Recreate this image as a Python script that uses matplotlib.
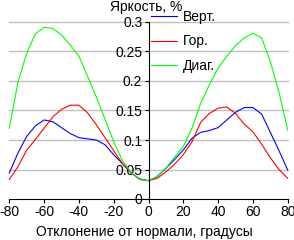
import matplotlib
matplotlib.use("Agg")
import matplotlib.pyplot as plt

plt.rcParams['font.family'] = ['Liberation Sans', 'DejaVu Sans']
plt.rcParams['font.size'] = 10

# deviation angle, degrees
angles = [-80, -75, -70, -65, -60, -55, -50, -45, -40, -35, -30, -25, -20, -15, -10, -5, 0,
          5, 10, 15, 20, 25, 30, 35, 40, 45, 50, 55, 60, 65, 70, 75, 80]

vert = [0.044, 0.078, 0.106, 0.124, 0.134, 0.131, 0.121, 0.111, 0.104, 0.102, 0.100, 0.092,
        0.075, 0.060, 0.044, 0.034, 0.031, 0.038, 0.052, 0.067, 0.083, 0.103, 0.113, 0.116,
        0.121, 0.134, 0.147, 0.155, 0.155, 0.144, 0.113, 0.082, 0.049]
hor = [0.033, 0.055, 0.083, 0.101, 0.120, 0.139, 0.152, 0.159, 0.159, 0.146, 0.126, 0.104,
       0.082, 0.060, 0.045, 0.033, 0.031, 0.035, 0.046, 0.059, 0.075, 0.097, 0.130, 0.145,
       0.154, 0.156, 0.145, 0.127, 0.114, 0.093, 0.070, 0.050, 0.035]
diag = [0.120, 0.198, 0.247, 0.280, 0.291, 0.289, 0.278, 0.261, 0.242, 0.208, 0.173, 0.135,
        0.097, 0.065, 0.045, 0.033, 0.031, 0.038, 0.052, 0.071, 0.089, 0.120, 0.162, 0.194,
        0.222, 0.242, 0.260, 0.273, 0.281, 0.273, 0.233, 0.181, 0.117]

labels = ['Верт.', 'Гор.', 'Диаг.']
colors = ['#0000ff', '#ff0000', '#00ff00']

xticks = [-80, -60, -40, -20, 0, 20, 40, 60, 80]
yticks = [0, 0.05, 0.1, 0.15, 0.2, 0.25, 0.3]

fig = plt.figure(figsize=(2.94, 2.40), dpi=100)
ax = fig.add_axes([9.3 / 294, 41 / 240, 278.4 / 294, 177 / 240])

for y in yticks[1:]:
    ax.axhline(y, color='#c0c0c0', lw=1.0, zorder=0, clip_on=False)

for series, lab, col in zip([vert, hor, diag], labels, colors):
    ax.plot(angles, series, color=col, lw=0.8, label=lab, clip_on=False)

ax.set_xlim(-80, 80)
ax.set_ylim(0, 0.3)

ax.spines['top'].set_visible(False)
ax.spines['right'].set_visible(False)
ax.spines['left'].set_position(('data', 0))
ax.spines['left'].set_linewidth(0.8)
ax.spines['bottom'].set_linewidth(0.8)

ax.set_xticks(xticks)
ax.set_xticklabels([str(t) for t in xticks])
ax.set_yticks(yticks)
ax.set_yticklabels(['0', '0.05', '0.1', '0.15', '0.2', '0.25', '0.3'])
ax.tick_params(axis='both', direction='out', length=3, width=0.8, pad=1.5, labelsize=10)

ax.legend(loc='upper left', bbox_to_anchor=(151 / 294, 1 - 10 / 240),
          bbox_transform=fig.transFigure, frameon=False, borderpad=0, borderaxespad=0,
          handlelength=1.9, handletextpad=0.4, labelspacing=0.75, fontsize=10)

fig.text(146.5 / 294, 1 - 7 / 240, 'Яркость, %', ha='center', va='center', fontsize=10)
fig.text(144 / 294, 1 - 232 / 240, 'Отклонение от нормали, градусы', ha='center',
         va='center', fontsize=10)

fig.savefig('out.png', dpi=100)
